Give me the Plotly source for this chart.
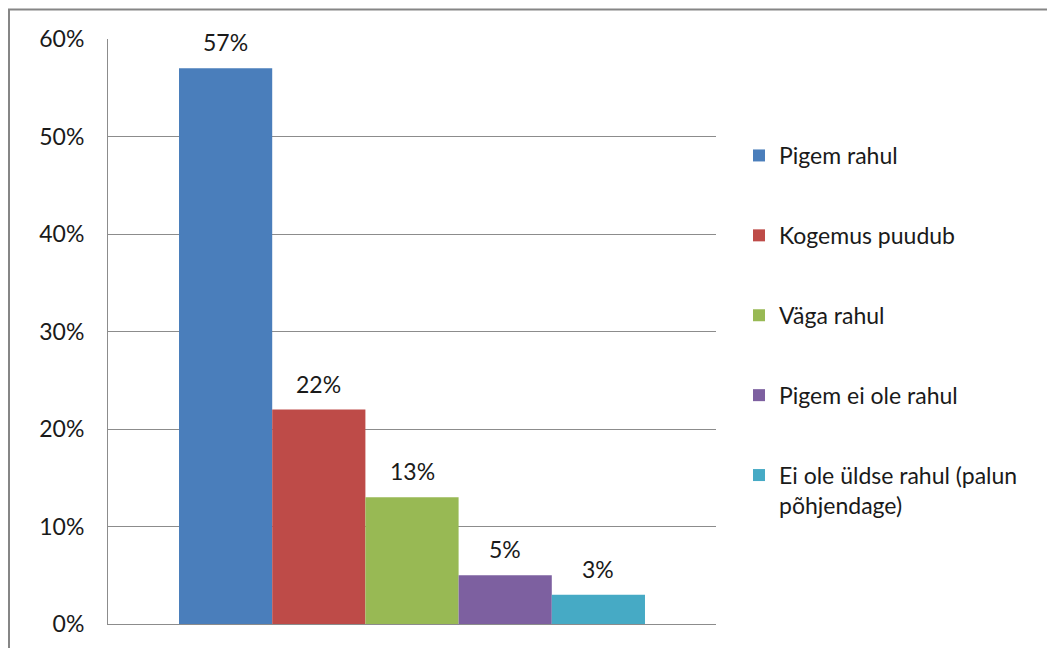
import plotly.graph_objects as go

categories = ["Pigem rahul", "Kogemus puudub", "Väga rahul", "Pigem ei ole rahul",
              "Ei ole üldse rahul (palun<br>põhjendage)"]
values = [0.57, 0.22, 0.13, 0.05, 0.03]
value_labels = ["57%", "22%", "13%", "5%", "3%"]
colors = ["#4A7EBB", "#BE4B48", "#98B954", "#7D60A0", "#46AAC5"]
y_ticks = [0, 0.1, 0.2, 0.3, 0.4, 0.5, 0.6]
y_tick_labels = ["0%", "10%", "20%", "30%", "40%", "50%", "60%"]

FONT = "Lato"
FS = 23
TXT = "#1a1a1a"

# page has an 8px body margin; figure px = page px - 8
L, T = 100, 31
pw, ph = 608, 585
R = 1055 - L - pw
B = 648 - T - ph


def px_x(p):
    return (p - L) / pw


def px_y(p):
    return 1 - (p - T) / ph


fig = go.Figure()
for i, (name, v, c) in enumerate(zip(categories, values, colors)):
    fig.add_trace(go.Bar(
        x=[i], y=[v], width=1, name=name, marker=dict(color=c, line=dict(width=0)),
        legendgroup=f"g{i}", hoverinfo="skip"))
    fig.add_annotation(x=i, y=v, text=value_labels[i], showarrow=False,
                       yanchor="bottom", yshift=10,
                       font=dict(family=FONT, size=FS, color=TXT))

fig.add_shape(type="rect", xref="paper", yref="paper",
              x0=px_x(1), x1=px_x(1070), y0=px_y(670), y1=px_y(1.5),
              line=dict(color="#868686", width=2), fillcolor="rgba(0,0,0,0)", layer="below")

fig.update_layout(
    width=1055, height=648,
    margin=dict(l=L, r=R, t=T, b=B, pad=0),
    paper_bgcolor="white", plot_bgcolor="white",
    font=dict(family=FONT, size=FS, color=TXT),
    showlegend=True,
    barmode="overlay",
    legend=dict(x=px_x(731), xanchor="left", y=px_y(126), yanchor="top",
                tracegroupgap=47, valign="top", font=dict(family=FONT, size=FS, color=TXT),
                bgcolor="rgba(0,0,0,0)"),
    xaxis=dict(range=[-1.262, 5.262], showticklabels=False, showgrid=False, zeroline=False,
               showline=True, linecolor="#8c8c8c", linewidth=1, fixedrange=True),
    yaxis=dict(range=[0, 0.6], tickvals=y_ticks, ticktext=y_tick_labels,
               showgrid=True, gridcolor="#8c8c8c", gridwidth=1, zeroline=False,
               showline=True, linecolor="#8c8c8c", linewidth=1, ticks="",
               ticklabelstandoff=18, tickfont=dict(family=FONT, size=FS, color=TXT)),
)
fig.write_html("out.html")
